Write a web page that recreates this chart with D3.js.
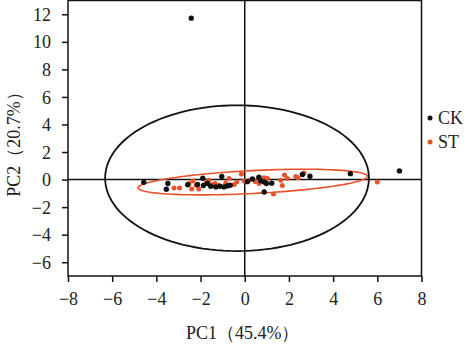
<!DOCTYPE html>
<html><head><meta charset="utf-8">
<script src="https://cdn.jsdelivr.net/npm/d3@7/dist/d3.min.js"></script>
<style>body{margin:0;background:#fff;}svg{display:block;}</style>
</head><body>
<svg id="c" width="470" height="348"></svg>
<script>
const xTicks = [-8,-6,-4,-2,0,2,4,6,8];
const yTicks = [-6,-4,-2,0,2,4,6,8,10,12];
const xTitle = "PC1（45.4%）";
const yTitle = "PC2（20.7%）";
const seriesNames = ["CK","ST"];
const ckX = [-2.42,-4.57,-3.48,-3.55,-2.58,-2.14,-1.90,-1.87,-1.69,-1.54,-1.31,-1.04,-1.12,-0.94,-0.78,-0.66,0.12,0.35,0.64,0.72,0.88,0.98,1.22,0.88,2.61,2.95,4.78,7.0];
const ckY = [11.72,-0.2,-0.29,-0.7,-0.38,-0.36,0.1,-0.43,-0.29,-0.48,-0.53,0.22,-0.48,-0.53,-0.46,-0.41,-0.15,0.05,0.17,-0.08,-0.17,-0.29,-0.26,-0.9,0.37,0.24,0.43,0.63];
const stX = [-3.2,-2.95,-2.52,-2.4,-2.35,-2.2,-2.08,-1.76,-1.62,-1.46,-1.34,-1.21,-0.86,-0.71,-0.48,-0.36,-0.15,-0.03,0.2,0.47,0.65,0.87,1.03,1.3,1.63,1.7,1.8,1.93,2.31,2.41,2.68,6.0];
const stY = [-0.62,-0.62,-0.29,-0.68,-0.1,-0.41,-0.68,-0.24,-0.05,-0.36,-0.29,-0.41,-0.24,0.07,-0.36,-0.17,0.4,-0.1,-0.05,-0.14,-0.29,0.14,0.07,-1.04,-0.05,-0.43,0.34,0.07,0.22,0.14,0.48,-0.17];
// confidence ellipses: center, half-axis vectors (data units)
const ckEllipse = {cx:-0.35, cy:0.1, ux:5.97, uy:0, vx:0, vy:5.29};
const stEllipse = {cx:0.36, cy:-0.18, ux:5.19, uy:0.42, vx:0.03, vy:-0.83};

const svg = d3.select("#c");
const x = d3.scaleLinear().domain([-8,8]).range([68,421.5]);
const y = d3.scaleLinear().domain([-7,13]).range([276,0.5]);
const font = "'Liberation Serif','Times New Roman',serif";
const orange = "#e8532b";

// box
svg.append("rect").attr("x",x(-8)).attr("y",y(13)).attr("width",x(8)-x(-8)).attr("height",y(-7)-y(13))
  .attr("fill","none").attr("stroke","#111").attr("stroke-width",1.5);
// zero lines
svg.append("line").attr("x1",x(0)).attr("x2",x(0)).attr("y1",y(13)).attr("y2",y(-7)).attr("stroke","#111").attr("stroke-width",1.5);
svg.append("line").attr("x1",x(-8)).attr("x2",x(8)).attr("y1",y(0)).attr("y2",y(0)).attr("stroke","#111").attr("stroke-width",1.5);

// axes
const gx = svg.append("g").attr("transform",`translate(0,${y(-7)})`)
  .call(d3.axisBottom(x).tickValues(xTicks).tickSize(6).tickPadding(6).tickFormat(d3.format("d")));
const gy = svg.append("g").attr("transform",`translate(${x(-8)},0)`)
  .call(d3.axisLeft(y).tickValues(yTicks).tickSize(6).tickPadding(11).tickFormat(d3.format("d")));
[gx,gy].forEach(g=>{
  g.select(".domain").remove();
  g.selectAll(".tick line").attr("stroke","#111").attr("stroke-width",1.5);
  g.selectAll(".tick text").attr("font-family",font).attr("font-size",18).attr("fill","#222");
});
gx.selectAll(".tick text").attr("dy","0.95em");
gy.selectAll(".tick text").attr("dy","0.34em");

// ellipses
function ellipsePath(e){
  const pts = d3.range(0,361,3).map(a=>{const t=a*Math.PI/180;
    return [x(e.cx+e.ux*Math.cos(t)+e.vx*Math.sin(t)), y(e.cy+e.uy*Math.cos(t)+e.vy*Math.sin(t))];});
  return d3.line()(pts)+"Z";
}
svg.append("path").attr("d",ellipsePath(ckEllipse)).attr("fill","none").attr("stroke","#111").attr("stroke-width",1.8);
svg.append("path").attr("d",ellipsePath(stEllipse)).attr("fill","none").attr("stroke",orange).attr("stroke-width",1.6);

// points
svg.append("g").selectAll("circle").data(stX.map((v,i)=>[v,stY[i]])).join("circle")
  .attr("cx",d=>x(d[0])).attr("cy",d=>y(d[1])).attr("r",2.5).attr("fill",orange);
svg.append("g").selectAll("circle").data(ckX.map((v,i)=>[v,ckY[i]])).join("circle")
  .attr("cx",d=>x(d[0])).attr("cy",d=>y(d[1])).attr("r",2.7).attr("fill","#111");

// titles
svg.append("text").attr("x",x(0)-2).attr("y",339).attr("text-anchor","middle")
  .attr("font-family",font).attr("font-size",18).attr("fill","#222").text(xTitle);
svg.append("text").attr("transform","translate(20,140) rotate(-90)").attr("text-anchor","middle")
  .attr("font-family",font).attr("font-size",18).attr("fill","#222").text(yTitle);

// legend
const leg = svg.append("g");
seriesNames.forEach((n,i)=>{
  const yy = 118 + i*24;
  leg.append("circle").attr("cx",430).attr("cy",yy).attr("r",2.5).attr("fill",i===0?"#111":orange);
  leg.append("text").attr("x",438).attr("y",yy).attr("dy","0.35em").attr("font-family",font)
    .attr("font-size",18).attr("fill","#222").text(n);
});
</script>
</body></html>
